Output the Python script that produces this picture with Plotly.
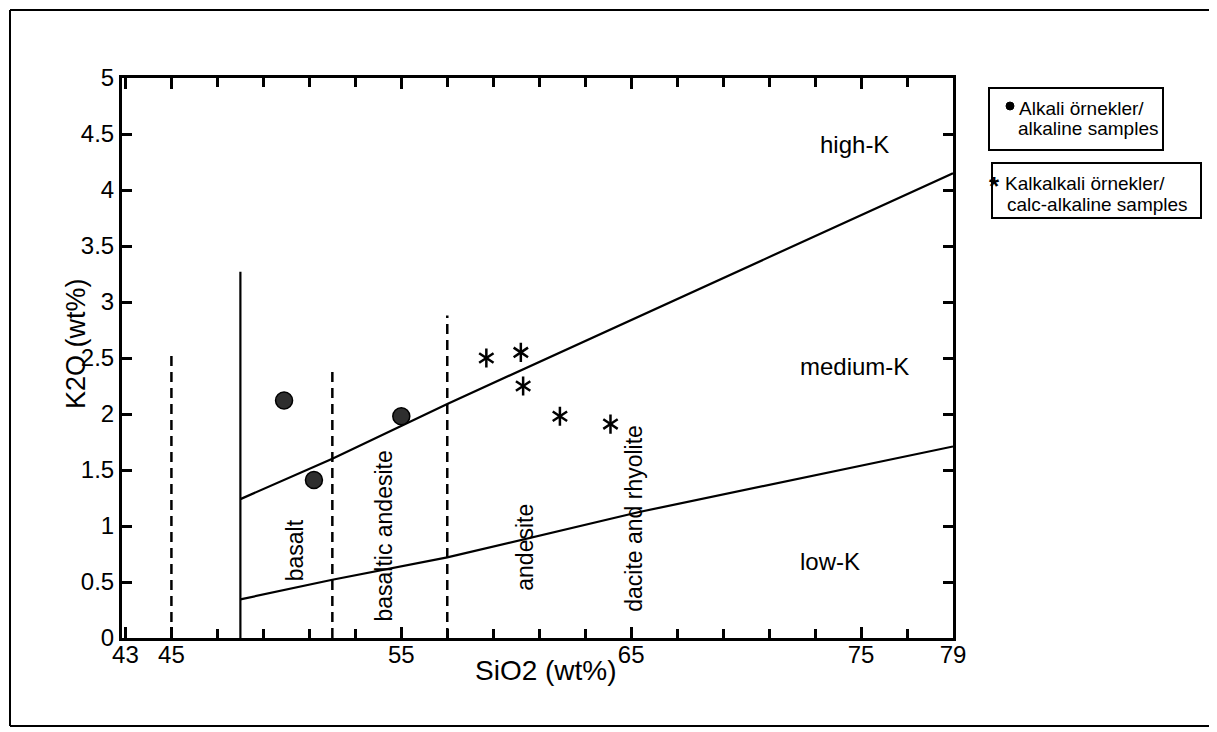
import plotly.graph_objects as go

# ---- data ----
alk_sio2 = [49.9, 51.2, 55.0]
alk_k2o = [2.12, 1.41, 1.98]

calc_sio2 = [58.7, 60.2, 60.3, 61.9, 64.1]
calc_k2o = [2.50, 2.55, 2.25, 1.98, 1.91]

# high-K / medium-K boundary
hk_sio2 = [48, 52, 57, 79]
hk_k2o = [1.24, 1.60, 2.09, 4.15]
# medium-K / low-K boundary
lk_sio2 = [48, 52, 57, 65.35, 79]
lk_k2o = [0.345, 0.52, 0.72, 1.125, 1.71]

# vertical rock-type boundaries
solid_x = 48
solid_top = 3.27
dash_x = [45, 52, 57]
dash_top = [2.52, 2.38, 2.88]

x_ticks = [43, 45, 55, 65, 75, 79]
y_ticks = [0, 0.5, 1, 1.5, 2, 2.5, 3, 3.5, 4, 4.5, 5]
y_labels = ["0", "0.5", "1", "1.5", "2", "2.5", "3", "3.5", "4", "4.5", "5"]

region_names = ["basalt", "basaltic andesite", "andesite", "dacite and rhyolite"]
region_x = [50.36, 54.27, 60.4, 65.15]
region_y = [0.78, 0.91, 0.81, 1.07]

series_names = ["high-K", "medium-K", "low-K"]
series_x = [74.7, 74.7, 73.65]
series_y = [4.41, 2.42, 0.68]

FONT = "Liberation Sans, Arial, Helvetica, sans-serif"

OFF = 8  # page body margin
W, H = 1217 - OFF, 732 - OFF  # keep the figure inside the window
L, R, T, B = 122, 953, 78, 638  # plot area in page pixels


def px(x):
    return (x - L) / (R - L)


def py(y):
    return (B - y) / (B - T)


fig = go.Figure()

# boundary lines
fig.add_trace(go.Scatter(x=hk_sio2, y=hk_k2o, mode="lines",
                         line=dict(color="black", width=2.2), showlegend=False, hoverinfo="skip"))
fig.add_trace(go.Scatter(x=lk_sio2, y=lk_k2o, mode="lines",
                         line=dict(color="black", width=2.2), showlegend=False, hoverinfo="skip"))
fig.add_trace(go.Scatter(x=[solid_x, solid_x], y=[0, solid_top], mode="lines",
                         line=dict(color="black", width=2.2), showlegend=False, hoverinfo="skip"))
for dx, dt in zip(dash_x, dash_top):
    fig.add_trace(go.Scatter(x=[dx, dx], y=[0, dt], mode="lines",
                             line=dict(color="black", width=2.5, dash="10px,6px"),
                             showlegend=False, hoverinfo="skip"))

# alkaline samples
fig.add_trace(go.Scatter(x=alk_sio2, y=alk_k2o, mode="markers", name="Alkali örnekler/alkaline samples",
                         marker=dict(symbol="circle", size=17, color="#2e2e2e",
                                     line=dict(color="black", width=1.5)),
                         showlegend=False))
# calc-alkaline samples (6-arm asterisk from two overlaid symbols)
for sym in ["y-up-open", "y-down-open"]:
    fig.add_trace(go.Scatter(x=calc_sio2, y=calc_k2o, mode="markers",
                             name="Kalkalkali örnekler/calc-alkaline samples",
                             marker=dict(symbol=sym, size=12, color="black",
                                         line=dict(color="black", width=2.5)),
                             showlegend=False))

annotations = []
for n, x, y in zip(region_names, region_x, region_y):
    annotations.append(dict(x=x, y=y, xref="x", yref="y", text=n, textangle=-90,
                            xanchor="center", yanchor="middle",
                            showarrow=False, font=dict(family=FONT, size=23, color="black")))
for n, x, y in zip(series_names, series_x, series_y):
    annotations.append(dict(x=x, y=y, xref="x", yref="y", text=n,
                            xanchor="center", yanchor="middle",
                            showarrow=False, font=dict(family=FONT, size=24, color="black")))

# axis titles
annotations.append(dict(x=px(76), y=py(344), xref="paper", yref="paper", text="K2O (wt%)",
                        textangle=-90, xanchor="center", yanchor="middle",
                        showarrow=False, font=dict(family=FONT, size=27, color="black")))
annotations.append(dict(x=px(546), y=py(670), xref="paper", yref="paper", text="SiO2 (wt%)",
                        xanchor="center", yanchor="middle",
                        showarrow=False, font=dict(family=FONT, size=28, color="black")))

# legend texts
leg_font = dict(family=FONT, size=19, color="black")
for txt, lx, ly in [("Alkali örnekler/", 1017, 108), ("alkaline samples", 1016, 128),
                    ("Kalkalkali örnekler/", 1003, 183), ("calc-alkaline samples", 1005, 204)]:
    annotations.append(dict(x=px(lx), y=py(ly), xref="paper", yref="paper", text=txt,
                            xanchor="left", yanchor="middle", showarrow=False, font=leg_font))
annotations.append(dict(x=px(994), y=py(186), xref="paper", yref="paper", text="<b>*</b>",
                        xanchor="center", yanchor="middle", showarrow=False,
                        font=dict(family=FONT, size=26, color="black")))

shapes = []
# outer frame (left, top, bottom edges; the right edge lies off the page)
frame_line = dict(color="black", width=2)
shapes.append(dict(type="line", xref="paper", yref="paper",
                   x0=px(10), x1=px(10), y0=py(726), y1=py(10), line=frame_line))
shapes.append(dict(type="line", xref="paper", yref="paper",
                   x0=px(10), x1=px(1216), y0=py(10), y1=py(10), line=frame_line))
shapes.append(dict(type="line", xref="paper", yref="paper",
                   x0=px(10), x1=px(1216), y0=py(726), y1=py(726), line=frame_line))
# legend boxes
shapes.append(dict(type="rect", xref="paper", yref="paper",
                   x0=px(989), x1=px(1163), y0=py(150), y1=py(88),
                   line=dict(color="black", width=2)))
shapes.append(dict(type="rect", xref="paper", yref="paper",
                   x0=px(992), x1=px(1201), y0=py(218), y1=py(163),
                   line=dict(color="black", width=2)))
# legend circle marker
shapes.append(dict(type="circle", xref="paper", yref="paper",
                   x0=px(1006), x1=px(1014), y0=py(110), y1=py(102),
                   fillcolor="black", line=dict(color="black", width=1)))

fig.update_layout(
    width=W, height=H,
    margin=dict(l=L - OFF, r=W - (R - OFF), t=T - OFF, b=H - (B - OFF), autoexpand=False),
    paper_bgcolor="white", plot_bgcolor="white",
    showlegend=False,
    annotations=annotations,
    shapes=shapes,
    font=dict(family=FONT, color="black"),
)

fig.update_xaxes(
    range=[42.85, 79], tickvals=x_ticks, ticktext=[str(v) for v in x_ticks],
    ticks="inside", ticklen=11, tickwidth=2.5, tickcolor="black",
    minor=dict(ticks="inside", ticklen=9, tickwidth=2.5, tickcolor="black", tick0=43, dtick=2),
    showline=True, linecolor="black", linewidth=3, mirror="allticks",
    showgrid=False, zeroline=False, ticklabelstandoff=-7,
    tickfont=dict(family=FONT, size=24, color="black"),
)
fig.update_yaxes(
    range=[0, 5], tickvals=y_ticks, ticktext=y_labels,
    ticks="inside", ticklen=10, tickwidth=2.5, tickcolor="black",
    showline=True, linecolor="black", linewidth=3, mirror="allticks",
    showgrid=False, zeroline=False,
    tickfont=dict(family=FONT, size=24, color="black"),
)

fig.write_html("out.html")
